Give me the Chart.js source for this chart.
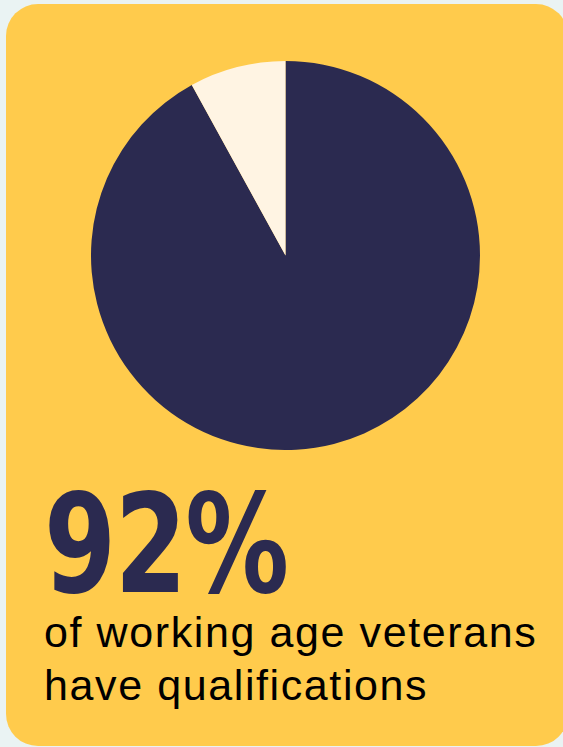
<!DOCTYPE html>
<html>
<head>
<meta charset="utf-8">
<script src="https://cdn.jsdelivr.net/npm/chart.js@4"></script>
<style>
    html, body { margin: 0; padding: 0; }
    body { width: 563px; height: 747px; background: #eaf3f3; overflow: hidden; position: relative; }
    .card { position: absolute; left: 6px; top: 4px; width: 562px; height: 742px; background: #ffcb4c; border-radius: 32px; }
    .pie { position: absolute; left: 91px; top: 61px; width: 389px; height: 389px; }
    .big { position: absolute; left: 44px; top: 476px; font-family: "DejaVu Sans", sans-serif; font-weight: bold; font-size: 148px; color: #2b2a50; letter-spacing: -2px; line-height: 1; transform: scale(0.70, 0.93); transform-origin: 0 0; }
    .caption { position: absolute; left: 44px; top: 606px; font-family: "Liberation Sans", Arial, sans-serif; font-size: 43px; line-height: 53px; letter-spacing: 1.6px; color: #000; }
</style>
</head>
<body>
<div class="card"></div>
<div class="pie"><canvas id="myChart"></canvas></div>
<div class="big" id="big"></div>
<div class="caption">of working age veterans<br>have qualifications</div>
<script>
const labels = ['With qualifications', 'Without qualifications'];
const values = [92, 8];
const colors = ['#2b2a50', '#fff4e3'];

function drawChart() {
    const ctx = document.getElementById('myChart');
    new Chart(ctx, {
        type: 'pie',
        data: {
            labels: labels,
            datasets: [{ data: values, backgroundColor: colors, borderWidth: 0 }]
        },
        options: {
            responsive: true,
            maintainAspectRatio: false,
            animation: false,
            layout: { padding: 0 },
            plugins: {
                legend: { display: false },
                tooltip: { enabled: false }
            }
        }
    });
    document.getElementById('big').textContent = values[0] + '%';
}

window.addEventListener('load', evt => drawChart());
</script>
</body>
</html>
